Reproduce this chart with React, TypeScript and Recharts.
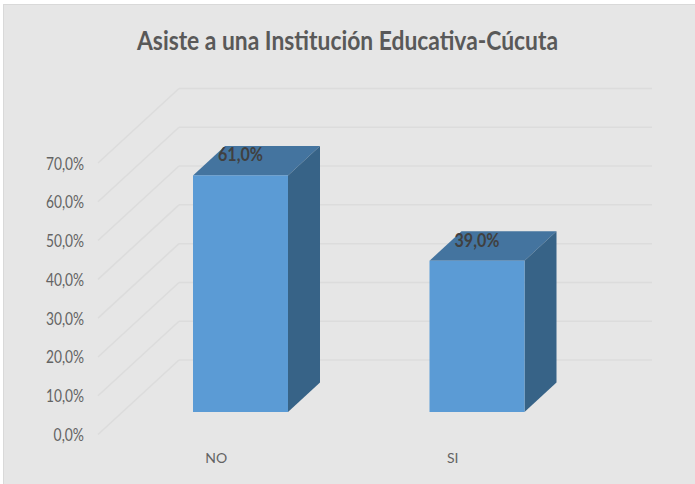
import React from "react";
import { BarChart, Bar, XAxis, YAxis, CartesianGrid, LabelList } from "recharts";

const categories = ["NO", "SI"];
const percentages = [61, 39];
const yTicks = [0, 10, 20, 30, 40, 50, 60, 70];
const chartTitle = "Asiste a una Institución Educativa-Cúcuta";
const rows = categories.map((name, i) => ({ name, value: percentages[i] }));

const FONT = "Lato, 'Open Sans', sans-serif";
const fmt = (v: number) => v.toFixed(1).replace(".", ",") + "%";

const BAR_DX = 24;
const BAR_DY = -22.5;
const DEPTH_X = 32;
const DEPTH_Y = 29.5;
const WALL_X = 81;
const WALL_Y = 74.5;

function Bar3D(p: any) {
  const x = p.x + BAR_DX;
  const y = p.y + BAR_DY;
  const w = p.width;
  const h = p.height;
  const r = x + w;
  const b = y + h;
  return (
    <g>
      <polygon points={`${x},${y} ${r},${y} ${r + DEPTH_X},${y - DEPTH_Y} ${x + DEPTH_X},${y - DEPTH_Y}`} fill="#44749F" />
      <polygon points={`${r},${y} ${r + DEPTH_X},${y - DEPTH_Y} ${r + DEPTH_X},${b - DEPTH_Y} ${r},${b}`} fill="#376387" />
      <rect x={x} y={y} width={w} height={h} fill="#5B9BD5" />
    </g>
  );
}

function WallLine(p: any) {
  const { x1, y1, x2 } = p;
  return (
    <g stroke="#DCDCDC" strokeWidth={1.5} fill="none">
      <line x1={x1} y1={y1} x2={x1 + WALL_X} y2={y1 - WALL_Y} />
      <line x1={x1 + WALL_X} y1={y1 - WALL_Y} x2={x2 + WALL_X} y2={y1 - WALL_Y} />
    </g>
  );
}

function TopLabel(p: any) {
  const { x, y, width, value } = p;
  return (
    <text x={x + width / 2 + BAR_DX} y={y + BAR_DY - 14} textAnchor="middle" fontFamily={FONT} fontSize={18} fontWeight={700} fill="#404040" textLength={45} lengthAdjust="spacingAndGlyphs">
      {fmt(value)}
    </text>
  );
}

function YTick(p: any) {
  const label = fmt(p.payload.value);
  return (
    <text x={p.x} y={p.y + 6.5} textAnchor="end" fontFamily={FONT} fontSize={17} fill="#636363" textLength={label.length * 7.6} lengthAdjust="spacingAndGlyphs">
      {label}
    </text>
  );
}

export default function App() {
  return (
    <div style={{ position: "absolute", left: 0, top: 0, width: 695, height: 484, background: "#fff", overflow: "hidden" }}>
      <div style={{ position: "absolute", left: 3, top: 4, width: 692, height: 480, boxSizing: "border-box", background: "#E6E6E6", borderLeft: "1px solid #D9D9D9", borderTop: "1px solid #D9D9D9" }} />
      <div style={{ position: "absolute", left: 0, top: 0 }}>
        <BarChart width={695} height={484} data={rows} margin={{ top: 163, right: 124, bottom: 0, left: 0 }} barSize={95}>
          <text x={347.5} y={50} textAnchor="middle" fontFamily={FONT} fontSize={26} fontWeight={700} fill="#595959" textLength={421} lengthAdjust="spacingAndGlyphs">
            {chartTitle}
          </text>
          <CartesianGrid vertical={false} horizontal={(p: any) => <WallLine key={p.key ?? p.y1} {...p} />} />
          <XAxis
            dataKey="name"
            axisLine={false}
            tickLine={false}
            tick={{ fontFamily: FONT, fontSize: 14, fill: "#636363" }}
            tickMargin={13}
            height={49.5}
          />
          <YAxis
            domain={[0, 70]}
            ticks={yTicks}
            interval={0}
            axisLine={false}
            tickLine={false}
            tick={YTick}
            tickMargin={8}
            width={98}
          />
          <Bar dataKey="value" isAnimationActive={false} shape={Bar3D}>
            <LabelList dataKey="value" content={TopLabel} />
          </Bar>
        </BarChart>
      </div>
    </div>
  );
}
